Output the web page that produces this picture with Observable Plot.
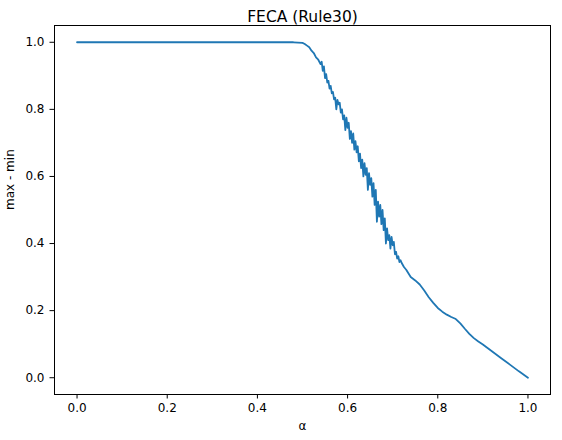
<!DOCTYPE html>
<html>
<head>
<meta charset="utf-8">
<script src="https://cdn.jsdelivr.net/npm/d3@7"></script>
<script src="https://cdn.jsdelivr.net/npm/@observablehq/plot@0.6"></script>
<style>
  html, body { margin: 0; padding: 0; background: #fff; }
  svg { display: block; }
</style>
</head>
<body>
<div id="chart"></div>
<script>
const alpha = [
  0.00, 0.05, 0.10, 0.15, 0.20, 0.25, 0.30, 0.35, 0.40, 0.45, 0.48, 0.49,
  0.500, 0.505, 0.510, 0.515, 0.520, 0.525, 0.530, 0.535,
  0.5400, 0.5425, 0.5450, 0.5475, 0.5500, 0.5525, 0.5550, 0.5575, 0.5600, 0.5625,
  0.5650, 0.5675, 0.5700, 0.5725, 0.5750, 0.5775, 0.5800, 0.5825, 0.5850, 0.5875,
  0.5900, 0.5925, 0.5950, 0.5975, 0.6000, 0.6025, 0.6050, 0.6075, 0.6100, 0.6125,
  0.6150, 0.6175, 0.6200, 0.6225, 0.6250, 0.6275, 0.6300, 0.6325, 0.6350, 0.6375,
  0.6400, 0.6425, 0.6450, 0.6475, 0.6500, 0.6525, 0.6550, 0.6575, 0.6600, 0.6625,
  0.6650, 0.6675, 0.6700, 0.6725, 0.6750, 0.6775, 0.6800, 0.6825, 0.6850, 0.6875,
  0.6900, 0.6925, 0.6950, 0.6975, 0.7000, 0.7025, 0.7050, 0.7075, 0.7100, 0.7125,
  0.7150, 0.7175, 0.7200, 0.725,
  0.73, 0.74, 0.75, 0.76, 0.77, 0.78, 0.79, 0.80, 0.81, 0.82, 0.83, 0.84,
  0.85, 0.86, 0.87, 0.88, 0.89, 0.90, 0.92, 0.94, 0.96, 0.98, 1.00
];
const maxMinusMin = [
  1.000, 1.000, 1.000, 1.000, 1.000, 1.000, 1.000, 1.000, 1.000, 1.000, 1.000, 0.999,
  0.998, 0.995, 0.990, 0.985, 0.975, 0.968, 0.955, 0.948,
  0.935, 0.942, 0.915, 0.928, 0.893, 0.905, 0.880, 0.885, 0.862, 0.870,
  0.848, 0.852, 0.830, 0.835, 0.800, 0.828, 0.815, 0.820, 0.790, 0.800,
  0.770, 0.782, 0.738, 0.775, 0.745, 0.760, 0.712, 0.735, 0.700, 0.728,
  0.680, 0.705, 0.672, 0.690, 0.645, 0.668, 0.625, 0.650, 0.600, 0.640,
  0.605, 0.625, 0.560, 0.610, 0.575, 0.595, 0.540, 0.580, 0.515, 0.560,
  0.465, 0.525, 0.480, 0.515, 0.458, 0.500, 0.440, 0.475, 0.400, 0.445,
  0.410, 0.425, 0.385, 0.420, 0.395, 0.405, 0.368, 0.375, 0.355, 0.362,
  0.345, 0.350, 0.342, 0.330,
  0.322, 0.300, 0.290, 0.278, 0.260, 0.240, 0.223, 0.208, 0.197, 0.188, 0.181, 0.175,
  0.162, 0.146, 0.131, 0.118, 0.108, 0.099, 0.079, 0.059, 0.039, 0.019, 0.000
];
const ticks = [0, 0.2, 0.4, 0.6, 0.8, 1.0];
const titleText = "FECA (Rule30)";
const xLabel = "α";
const yLabel = "max - min";

const data = alpha.map((a, i) => ({a, v: maxMinusMin[i]}));

const chart = Plot.plot({
  width: 562,
  height: 440,
  marginLeft: 54,
  marginRight: 12,
  marginTop: 25,
  marginBottom: 46,
  style: {fontFamily: "DejaVu Sans", fontSize: "12px", color: "#000", background: "#fff"},
  x: {domain: [-0.05, 1.05]},
  y: {domain: [-0.05, 1.05]},
  marks: [
    Plot.axisX(ticks, {tickSize: 4.5, tickPadding: 4.5, tickFormat: d3.format(".1f"), label: null, fontSize: 12, stroke: "#000", color: "#000"}),
    Plot.axisY(ticks, {tickSize: 4.5, tickPadding: 5.5, tickFormat: d3.format(".1f"), label: null, fontSize: 12, stroke: "#000", color: "#000"}),
    Plot.line(data, {x: "a", y: "v", stroke: "#1f77b4", strokeWidth: 1.8}),
    Plot.frame({stroke: "#000", strokeWidth: 1}),
    Plot.text([titleText], {frameAnchor: "top", dy: -15, fontSize: 15.5, fill: "#000"}),
    Plot.text([xLabel], {frameAnchor: "bottom", dy: 35, fontSize: 12, fill: "#000"}),
    Plot.text([yLabel], {frameAnchor: "left", dx: -44, rotate: -90, fontSize: 12, fill: "#000"})
  ]
});
document.getElementById("chart").appendChild(chart);
</script>
</body>
</html>
